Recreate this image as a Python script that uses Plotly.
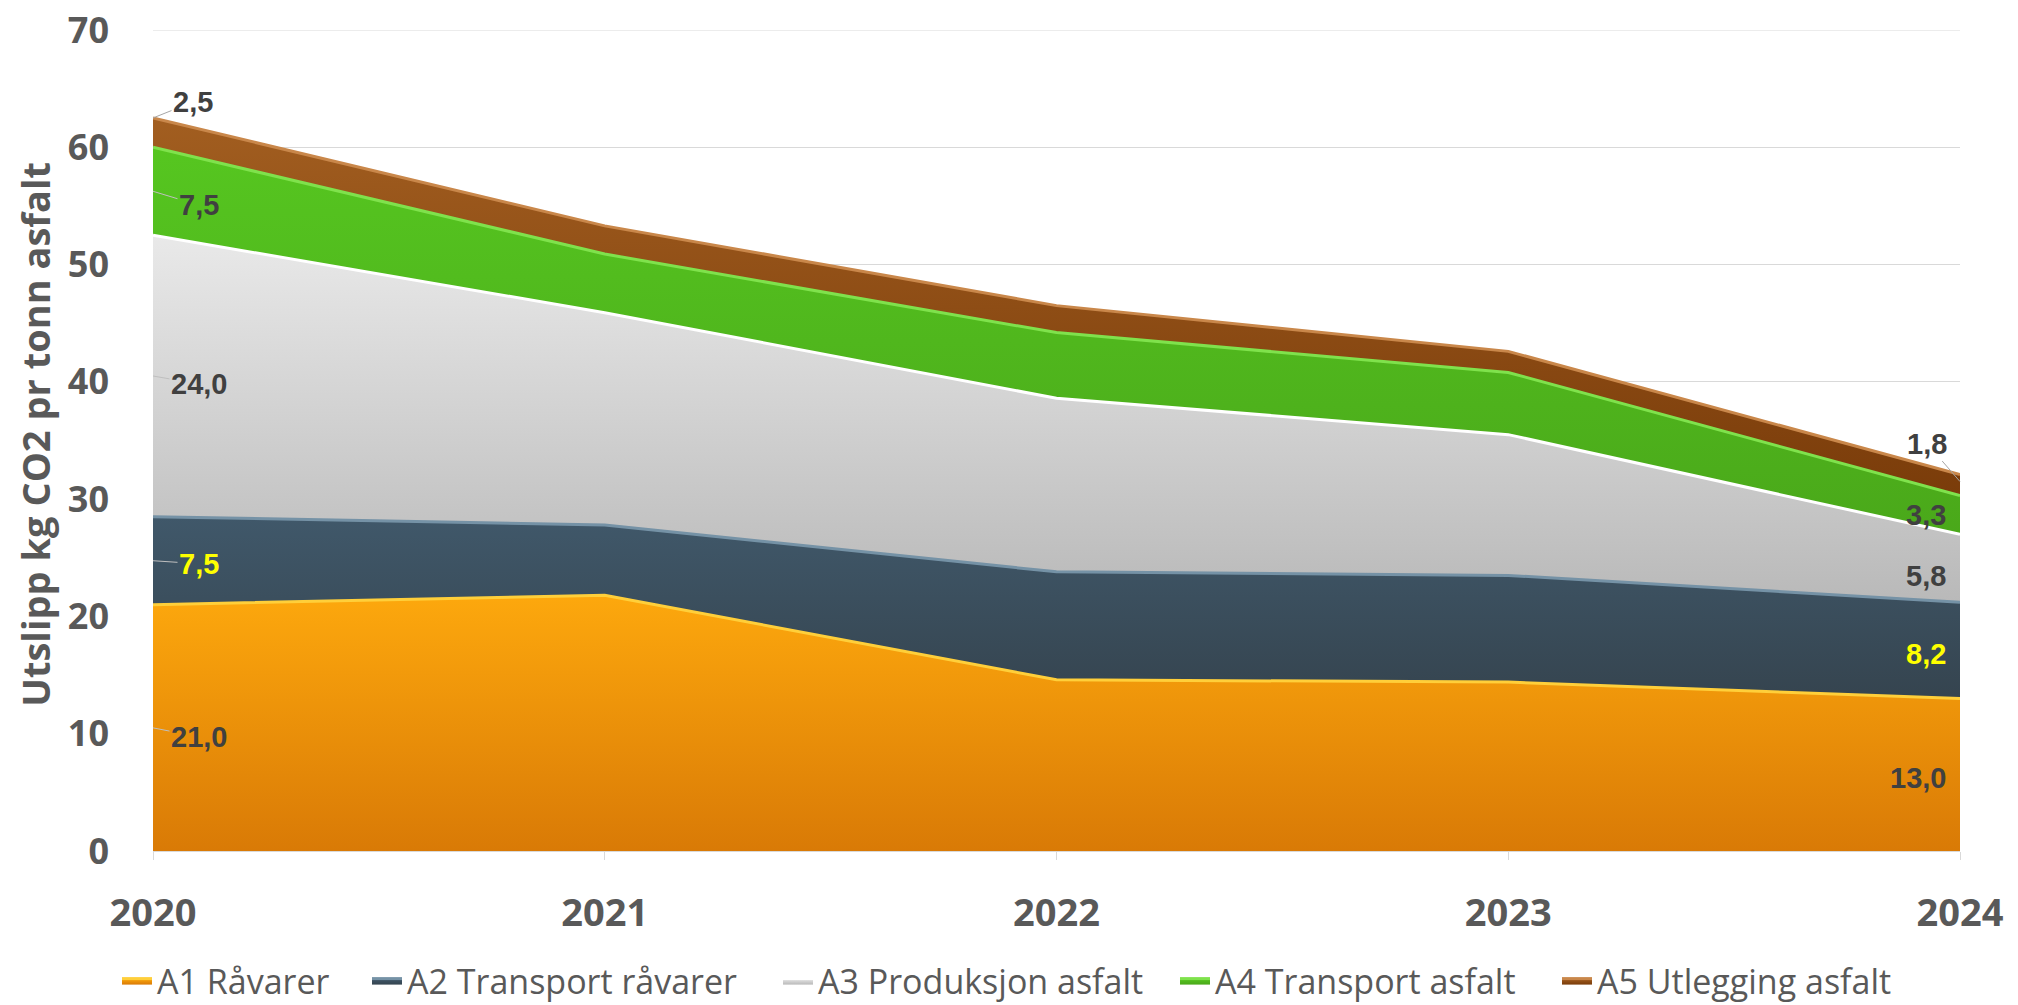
import numpy as np
import plotly.graph_objects as go

years = [2020, 2021, 2022, 2023, 2024]
year_labels = ["2020", "2021", "2022", "2023", "2024"]

a1_raavarer = [21.0, 21.8, 14.6, 14.4, 13.0]
a2_transport_raavarer = [7.5, 6.0, 9.2, 9.1, 8.2]
a3_produksjon = [24.0, 18.1, 14.8, 12.0, 5.8]
a4_transport_asfalt = [7.5, 5.0, 5.6, 5.3, 3.3]
a5_utlegging = [2.5, 2.4, 2.3, 1.8, 1.8]

series_names = ["A1 Råvarer", "A2 Transport råvarer", "A3 Produksjon asfalt",
                "A4 Transport asfalt", "A5 Utlegging asfalt"]
series_values = [a1_raavarer, a2_transport_raavarer, a3_produksjon,
                 a4_transport_asfalt, a5_utlegging]

y_ticks = [0, 10, 20, 30, 40, 50, 60, 70]

# ---- styles ----
fill_bottom = ["#d97a06", "#35444f", "#b9b9b9", "#4aa81a", "#7a3c0a"]
fill_top = ["#fda80d", "#40586a", "#e9e9e9", "#56c620", "#a25e20"]
edge_colors = ["#ffcf3a", "#7592a6", "#ffffff", "#7fe24c", "#c9874a"]
legend_colors = ["#f39a0a", "#3b4d5a", "#d0d0d0", "#52c01e", "#8c4812"]
label_colors = ["#404040", "#ffff00", "#404040", "#404040", "#404040"]
left_label_yshift = [-9, -3, -8, -14, 0]
right_label_yshift = [-3, -4, -8, 0, 0]
legend_x_px = [109, 359, 770, 1167, 1549]   # left edge of each legend entry (figure px)

FIG_W, FIG_H = 2010, 997   # page body adds an 8px margin

vals = np.array(series_values)
cum_top = np.cumsum(vals, axis=0)
cum_bot = cum_top - vals

fig = go.Figure()
legend_layouts = {}
for i, name in enumerate(series_names):
    lg = "legend" if i == 0 else "legend%d" % (i + 1)
    fig.add_trace(go.Scatter(
        x=years, y=series_values[i], name=name, stackgroup="one",
        mode="lines",
        line=dict(color=edge_colors[i], width=3),
        fillcolor=legend_colors[i],
        fillgradient=dict(type="vertical",
                          colorscale=[[0, fill_bottom[i]], [1, fill_top[i]]],
                          start=float(cum_bot[i].min()), stop=float(cum_top[i].max())),
        hoverinfo="skip",
        legend=lg,
    ))
    legend_layouts[lg] = dict(
        orientation="h", x=legend_x_px[i] / FIG_W, xanchor="left", xref="container",
        y=1 - 973 / FIG_H, yanchor="middle", yref="container",
        font=dict(family="Open Sans, sans-serif", size=34, color="#595959"),
        itemwidth=30, bgcolor="rgba(0,0,0,0)", borderwidth=0)

label_font = dict(family="Liberation Sans, Arial, sans-serif", size=29, color="#404040")

def fmt(v):
    return f"{v:.1f}".replace(".", ",")

annotations = []
n = len(years)
for i in range(len(series_names)):
    for j, side in [(0, "left"), (n - 1, "right")]:
        v = series_values[i][j]
        mid = (cum_bot[i][j] + cum_top[i][j]) / 2
        f = dict(label_font, color=label_colors[i])
        txt = "<b>" + fmt(v) + "</b>"
        if i == len(series_names) - 1:
            if side == "left":
                annotations.append(dict(x=years[j], y=cum_top[i][j], xref="x", yref="y",
                                        text=txt, showarrow=True,
                                        arrowhead=0, arrowcolor="#a6a6a6", arrowwidth=1,
                                        ax=40, ay=-16, font=f))
            else:
                annotations.append(dict(x=years[j], y=cum_top[i][j] - 0.6, xref="x", yref="y",
                                        text=txt, showarrow=True,
                                        arrowhead=0, arrowcolor="#a6a6a6", arrowwidth=1,
                                        ax=-33, ay=-38, font=f))
            continue
        if side == "left":
            annotations.append(dict(x=years[j], y=mid, xref="x", yref="y",
                                    text=txt, showarrow=True,
                                    arrowhead=0, arrowcolor="#bfbfbf", arrowwidth=1,
                                    ax=46, ay=-left_label_yshift[i], font=f))
        else:
            annotations.append(dict(x=years[j], y=mid, xref="x", yref="y",
                                    text=txt, showarrow=False, yshift=right_label_yshift[i],
                                    xanchor="right", xshift=-12, font=f))

annotations.append(dict(text="<b>Utslipp kg CO2 pr tonn asfalt</b>", textangle=-90,
                        xref="paper", yref="paper", x=-0.0653, y=0.507,
                        xanchor="center", yanchor="middle", showarrow=False,
                        font=dict(family="Open Sans, sans-serif", size=38, color="#595959")))

fig.update_layout(
    width=FIG_W, height=FIG_H,
    margin=dict(l=145, r=58, t=22, b=154, autoexpand=False),
    paper_bgcolor="white", plot_bgcolor="white",
    annotations=annotations,
    showlegend=True,
    font=dict(family="Open Sans, sans-serif"),
    **legend_layouts,
)
# top gridline at the axis maximum
fig.add_shape(type="line", xref="paper", yref="y", x0=0, x1=1,
              y0=y_ticks[-1], y1=y_ticks[-1], line=dict(color="#d9d9d9", width=1), layer="below")
fig.update_xaxes(range=[years[0], years[-1]], tickvals=years, ticktext=["<b>%s</b>" % t for t in year_labels],
                 tickfont=dict(family="Open Sans, sans-serif", size=38, color="#595959"),
                 showgrid=False, showline=True, linecolor="#d9d9d9", linewidth=1,
                 ticks="outside", ticklen=8, tickcolor="#d9d9d9", ticklabelstandoff=20,
                 zeroline=False, ticklabeloverflow="allow")
fig.update_yaxes(range=[0, 70], tickvals=y_ticks, ticktext=["<b>%d</b>" % t for t in y_ticks],
                 tickfont=dict(family="Open Sans, sans-serif", size=36, color="#595959"),
                 showgrid=True, gridcolor="#d9d9d9", gridwidth=1,
                 showline=False, zeroline=False, ticks="", ticklabelstandoff=43,
                 ticklabeloverflow="allow")

fig.write_html("out.html")
